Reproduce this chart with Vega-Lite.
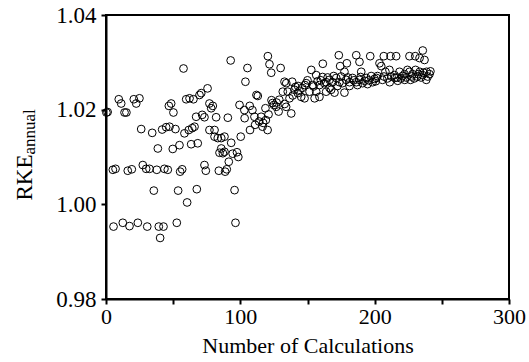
{
  "$schema": "https://vega.github.io/schema/vega-lite/v6.json",
  "width": 403,
  "height": 284,
  "autosize": {"type": "none"},
  "padding": {"left": 106, "top": 15, "right": 20, "bottom": 63},
  "background": "white",
  "config": {"view": {"stroke": "#000", "strokeWidth": 2}, "font": "Liberation Serif"},
  "data": {"values": [
    {"n":0.3,"rke":1.0194},{"n":1.2,"rke":1.0195},
    {"n":9.5,"rke":1.0222},{"n":11.3,"rke":1.0213},{"n":13.8,"rke":1.0194},{"n":15.2,"rke":1.0194},
    {"n":20.7,"rke":1.0222},{"n":22.5,"rke":1.0213},{"n":24.9,"rke":1.0224},
    {"n":26.2,"rke":1.0159},{"n":34.4,"rke":1.0151},{"n":41.8,"rke":1.0158},{"n":44.8,"rke":1.0163},{"n":47.3,"rke":1.0164},{"n":51.7,"rke":1.0159},
    {"n":46.8,"rke":1.0208},{"n":48.5,"rke":1.0213},{"n":50.2,"rke":1.0194},
    {"n":38.6,"rke":1.0118},{"n":49.7,"rke":1.0117},{"n":54.7,"rke":1.0125},{"n":63.4,"rke":1.0127},{"n":68.3,"rke":1.0129},
    {"n":58.4,"rke":1.0150},{"n":61.6,"rke":1.0157},{"n":64.2,"rke":1.0161},{"n":65.9,"rke":1.0164},
    {"n":57.7,"rke":1.0287},
    {"n":59.7,"rke":1.0222},{"n":62.2,"rke":1.0224},{"n":65.1,"rke":1.0222},{"n":69.6,"rke":1.0231},{"n":70.9,"rke":1.0235},{"n":75.6,"rke":1.0245},
    {"n":67.1,"rke":1.0185},{"n":71.6,"rke":1.0189},{"n":73.3,"rke":1.0184},
    {"n":77.0,"rke":1.0213},{"n":79.5,"rke":1.0208},{"n":78.3,"rke":1.0203},
    {"n":77.0,"rke":1.0157},{"n":80.8,"rke":1.0157},
    {"n":82.0,"rke":1.0184},{"n":90.7,"rke":1.0183},
    {"n":80.8,"rke":1.0143},{"n":83.2,"rke":1.0140},{"n":85.8,"rke":1.0140},{"n":88.2,"rke":1.0143},
    {"n":85.8,"rke":1.0118},{"n":88.2,"rke":1.0111},{"n":87.0,"rke":1.0108},
    {"n":93.2,"rke":1.0130},{"n":92.8,"rke":1.0304},
    {"n":84.5,"rke":1.0109},{"n":91.4,"rke":1.0090},{"n":94.3,"rke":1.0107},{"n":97.5,"rke":1.0110},{"n":98.5,"rke":1.0100},
    {"n":5.1,"rke":1.0073},{"n":7.1,"rke":1.0075},{"n":16.2,"rke":1.0071},{"n":19.2,"rke":1.0074},{"n":27.4,"rke":1.0083},{"n":29.9,"rke":1.0075},{"n":32.4,"rke":1.0075},{"n":37.8,"rke":1.0073},{"n":43.5,"rke":1.0075},{"n":46.0,"rke":1.0073},{"n":55.2,"rke":1.0069},{"n":56.7,"rke":1.0074},{"n":73.3,"rke":1.0083},{"n":74.3,"rke":1.0071},{"n":84.0,"rke":1.0071},{"n":88.7,"rke":1.0069},{"n":89.9,"rke":1.0074},
    {"n":35.6,"rke":1.0029},{"n":53.7,"rke":1.0029},{"n":60.4,"rke":1.0004},{"n":67.6,"rke":1.0032},{"n":95.7,"rke":1.0030},
    {"n":5.6,"rke":0.9953},{"n":12.5,"rke":0.9961},{"n":17.5,"rke":0.9954},{"n":23.7,"rke":0.9961},{"n":30.7,"rke":0.9953},{"n":39.3,"rke":0.9953},{"n":42.8,"rke":0.9953},{"n":40.3,"rke":0.9929},{"n":52.7,"rke":0.9961},{"n":96.4,"rke":0.9961},
    {"n":99.4,"rke":1.0210},{"n":100.3,"rke":1.0143},{"n":103,"rke":1.0199},{"n":103.2,"rke":1.0182},{"n":103.8,"rke":1.0259},{"n":105.3,"rke":1.0288},{"n":107,"rke":1.0208},{"n":107.2,"rke":1.0157},{"n":109,"rke":1.0199},{"n":110.5,"rke":1.0185},{"n":111,"rke":1.0168},{"n":112,"rke":1.0231},{"n":113,"rke":1.0229},{"n":114,"rke":1.0175},{"n":115.5,"rke":1.0185},{"n":116.5,"rke":1.0164},{"n":117,"rke":1.0172},{"n":118.7,"rke":1.0203},{"n":119,"rke":1.0178},{"n":120.3,"rke":1.0157},{"n":120.5,"rke":1.0313},{"n":121,"rke":1.0190},{"n":121.7,"rke":1.0296},{"n":123,"rke":1.0278},{"n":123.2,"rke":1.0220},{"n":124,"rke":1.0214},{"n":125,"rke":1.0210},{"n":126.7,"rke":1.0206},{"n":127,"rke":1.0215},{"n":128.5,"rke":1.0196},{"n":129,"rke":1.0221},{"n":130,"rke":1.0288},{"n":131.6,"rke":1.0238},{"n":132.9,"rke":1.0259},{"n":133,"rke":1.0212},{"n":134.1,"rke":1.0206},{"n":134.2,"rke":1.0256},{"n":135.3,"rke":1.0238},{"n":136.6,"rke":1.0224},{"n":137.9,"rke":1.0192},{"n":138.6,"rke":1.0259},{"n":139,"rke":1.0230},{"n":140.3,"rke":1.0242},{"n":141,"rke":1.0248},{"n":142.8,"rke":1.0235},{"n":143,"rke":1.0250},{"n":144,"rke":1.0240},{"n":145.3,"rke":1.0227},{"n":146,"rke":1.0246},{"n":147.8,"rke":1.0224},{"n":148,"rke":1.0252},{"n":149,"rke":1.0256},{"n":150,"rke":1.0262},{"n":151.5,"rke":1.0238},{"n":152.8,"rke":1.0284},{"n":154,"rke":1.0252},
    {"n":154.5,"rke":1.0249},{"n":156.5,"rke":1.0238},{"n":155.3,"rke":1.0224},{"n":158.9,"rke":1.0227},{"n":163.9,"rke":1.0238},{"n":167.6,"rke":1.0242},{"n":170.1,"rke":1.0236},{"n":177.5,"rke":1.0236},
    {"n":161.4,"rke":1.0297},{"n":173.3,"rke":1.0315},{"n":174.3,"rke":1.0292},{"n":179.3,"rke":1.0298},{"n":177.5,"rke":1.0280},{"n":186.3,"rke":1.0315},{"n":188.7,"rke":1.0301},{"n":190,"rke":1.0280},{"n":196.7,"rke":1.0313},
    {"n":156.5,"rke":1.0273},{"n":161.2,"rke":1.0269},{"n":163.9,"rke":1.0258},{"n":166.4,"rke":1.0263},{"n":168.6,"rke":1.0258},{"n":171.4,"rke":1.0267},{"n":173.8,"rke":1.0258},{"n":176,"rke":1.0256},{"n":178.8,"rke":1.0263},{"n":181.3,"rke":1.0258},{"n":183.5,"rke":1.0267},{"n":186.3,"rke":1.0258},{"n":188.7,"rke":1.0263},{"n":191,"rke":1.0256},{"n":193.7,"rke":1.0267},{"n":197.4,"rke":1.0271},{"n":199.9,"rke":1.0265},{"n":202.1,"rke":1.0271},
    {"n":158.9,"rke":1.0252},{"n":166.4,"rke":1.0246},{"n":172.3,"rke":1.0250},{"n":181.3,"rke":1.0250},{"n":187.2,"rke":1.0252},{"n":194.7,"rke":1.0254},
    {"n":157.5,"rke":1.0260},{"n":160,"rke":1.0262},{"n":162.5,"rke":1.0256},{"n":165,"rke":1.0268},{"n":169.5,"rke":1.0271},{"n":175,"rke":1.0270},{"n":180,"rke":1.0268},{"n":184.5,"rke":1.0262},{"n":189.5,"rke":1.0269},{"n":192.5,"rke":1.0261},{"n":195.5,"rke":1.0262},{"n":198.5,"rke":1.0258},{"n":200.8,"rke":1.0260},
    {"n":206.8,"rke":1.0313},{"n":211.8,"rke":1.0313},{"n":216,"rke":1.0313},{"n":225.9,"rke":1.0313},{"n":230.2,"rke":1.0313},{"n":235.8,"rke":1.0325},{"n":233.4,"rke":1.0309},{"n":237.1,"rke":1.0305},{"n":203.6,"rke":1.0298},{"n":204.9,"rke":1.0292},
    {"n":208,"rke":1.0280},{"n":211,"rke":1.0284},{"n":214.8,"rke":1.0273},{"n":218.5,"rke":1.0280},{"n":220.7,"rke":1.0271},{"n":222.2,"rke":1.0275},{"n":224.4,"rke":1.0284},{"n":226,"rke":1.0280},{"n":228.2,"rke":1.0275},{"n":230.4,"rke":1.0284},{"n":233.6,"rke":1.0280},{"n":235.6,"rke":1.0273},{"n":238.6,"rke":1.0280},{"n":240.8,"rke":1.0275},
    {"n":201.4,"rke":1.0267},{"n":205.8,"rke":1.0263},{"n":211.2,"rke":1.0258},{"n":217.2,"rke":1.0261},{"n":222.4,"rke":1.0263},{"n":226.7,"rke":1.0263},{"n":231.7,"rke":1.0270},{"n":238.4,"rke":1.0263},{"n":215,"rke":1.0267},
    {"n":207,"rke":1.0270},{"n":209.5,"rke":1.0266},{"n":212.5,"rke":1.0270},{"n":216.5,"rke":1.0268},{"n":219.5,"rke":1.0266},{"n":223.5,"rke":1.0268},{"n":227.5,"rke":1.0270},{"n":229.5,"rke":1.0266},{"n":232.5,"rke":1.0275},{"n":234.5,"rke":1.0268},{"n":236.5,"rke":1.0278},{"n":239.5,"rke":1.0270},{"n":241.5,"rke":1.0281}
  ]},
  "layer": [
    {
      "mark": {"type": "point", "shape": "circle", "filled": false, "color": "#000", "size": 60, "strokeWidth": 1, "opacity": 1},
      "encoding": {
        "x": {"field": "n", "type": "quantitative",
          "scale": {"domain": [0, 300], "nice": false, "zero": false},
          "axis": {"values": [0, 50, 100, 150, 200, 250, 300], "labelExpr": "datum.value % 100 === 0 ? datum.label : ''",
            "title": "Number of Calculations", "grid": false, "domainColor": "#000", "domainWidth": 2,
            "tickColor": "#000", "tickWidth": 2, "tickSize": 5, "labelFont": "Liberation Serif", "labelFontSize": 22,
            "labelColor": "#000", "labelPadding": 2, "labelFlush": false, "labelOverlap": false,
            "titleFont": "Liberation Serif", "titleFontSize": 22, "titleFontWeight": "normal", "titleColor": "#000", "titlePadding": 8}},
        "y": {"field": "rke", "type": "quantitative",
          "scale": {"domain": [0.98, 1.04], "nice": false, "zero": false},
          "axis": {"values": [0.98, 1.0, 1.02, 1.04], "format": ".2f", "grid": false,
            "domainColor": "#000", "domainWidth": 2, "tickColor": "#000", "tickWidth": 2, "tickSize": 5,
            "labelFont": "Liberation Serif", "labelFontSize": 23, "labelColor": "#000", "labelPadding": 5, "labelFlush": false, "labelOverlap": false,
            "title": "RKE", "titleFont": "Liberation Serif", "titleFontSize": 23, "titleFontWeight": "normal", "titleColor": "#000",
            "titleAngle": -90, "titleAlign": "left", "titleBaseline": "alphabetic", "titleX": -75, "titleY": 185}}
      }
    },
    {
      "mark": {"type": "point", "opacity": 0},
      "encoding": {
        "y": {"field": "rke", "type": "quantitative",
          "scale": {"domain": [0.98, 1.04], "nice": false, "zero": false},
          "axis": {"orient": "left", "labels": false, "ticks": false, "domain": false, "grid": false,
            "title": "annual", "titleFont": "Liberation Serif", "titleFontSize": 17, "titleFontWeight": "normal", "titleColor": "#000",
            "titleAngle": -90, "titleAlign": "left", "titleBaseline": "alphabetic", "titleX": -72, "titleY": 139}}
      }
    }
  ],
  "resolve": {"scale": {"y": "independent"}, "axis": {"y": "independent"}}
}
